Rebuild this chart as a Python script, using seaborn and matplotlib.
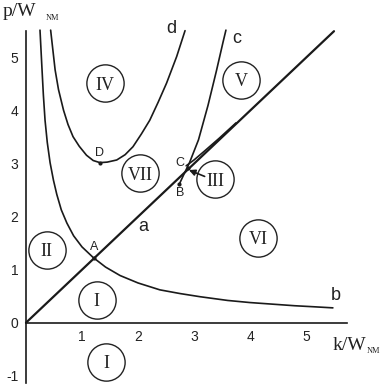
import matplotlib
matplotlib.use("Agg")
import matplotlib.pyplot as plt
import seaborn as sns
import pandas as pd

# curves (k/W_NM, p/W_NM)
line_a_x = [0.0, 5.5]
line_a_y = [0.0, 5.5]

curve_b_x = [0.25, 0.28, 0.31, 0.34, 0.38, 0.43, 0.49, 0.55, 0.63, 0.73, 0.85, 1.00, 1.20,
             1.42, 1.68, 2.00, 2.39, 2.75, 3.11, 3.60, 4.00, 4.40, 4.80, 5.15, 5.48]
curve_b_y = [5.52, 4.90, 4.30, 3.82, 3.40, 3.02, 2.69, 2.42, 2.13, 1.88, 1.64, 1.43, 1.23,
             1.05, 0.89, 0.75, 0.62, 0.55, 0.49, 0.42, 0.38, 0.35, 0.32, 0.30, 0.28]

curve_d_x = [0.44, 0.52, 0.58, 0.67, 0.75, 0.84, 0.95, 1.08, 1.20, 1.32, 1.45, 1.62,
             1.77, 1.91, 2.06, 2.21, 2.36, 2.51, 2.69, 2.84]
curve_d_y = [5.52, 4.77, 4.40, 4.01, 3.74, 3.51, 3.33, 3.16, 3.06, 3.02, 3.03, 3.07,
             3.17, 3.32, 3.56, 3.82, 4.16, 4.52, 5.02, 5.51]

curve_c_x = [2.74, 2.82, 2.92, 3.08, 3.25, 3.40, 3.52, 3.57]
curve_c_y = [2.62, 2.80, 3.02, 3.45, 4.10, 4.75, 5.30, 5.52]

curve_e_x = [2.86, 3.00, 3.20, 3.45, 3.75]
curve_e_y = [2.96, 3.07, 3.25, 3.48, 3.77]

point_names = ["A", "D", "B", "C"]
point_x = [1.22, 1.32, 2.74, 2.90]
point_y = [1.22, 3.02, 2.62, 2.92]
point_label_x = [1.21, 1.32, 2.75, 2.75]
point_label_y = [1.43, 3.21, 2.44, 3.01]

curve_names = ["a", "b", "c", "d"]
curve_label_x = [2.10, 5.54, 3.76, 2.60]
curve_label_y = [1.81, 0.52, 5.37, 5.55]

region_names = ["I", "I", "II", "III", "IV", "V", "VI", "VII"]
region_x = [1.26, 1.43, 0.37, 3.38, 1.41, 3.84, 4.14, 2.04]
region_y = [0.43, -0.74, 1.38, 2.71, 4.52, 4.58, 1.60, 2.82]

x_ticks = [1, 2, 3, 4, 5]
y_ticks = [-1, 0, 1, 2, 3, 4, 5]

sns.set_style("white")
plt.rcParams["axes.unicode_minus"] = False
W, H = 382, 384
fig = plt.figure(figsize=(W / 100, H / 100), dpi=100)
ax = fig.add_axes([0, 0, 1, 1])

# pixel mapping: x=0 at 26px, 56 px/unit ; y=0 at 322.7px, 53 px/unit
ax.set_xlim(-26 / 56, (W - 26) / 56)
ax.set_ylim((322.7 - H) / 53, 322.7 / 53)

ink = "#1a1a1a"
sns.lineplot(x=line_a_x, y=line_a_y, ax=ax, color=ink, lw=1.6, sort=False)
for cx, cy in [(curve_b_x, curve_b_y), (curve_d_x, curve_d_y),
               (curve_c_x, curve_c_y), (curve_e_x, curve_e_y)]:
    sns.lineplot(x=cx, y=cy, ax=ax, color=ink, lw=1.2, sort=False)

pts = pd.DataFrame({"x": point_x, "y": point_y})
sns.scatterplot(data=pts, x="x", y="y", ax=ax, color=ink, s=9, linewidth=0, zorder=5)

# region circles, all the same size
regions = pd.DataFrame({"x": region_x, "y": region_y})
sns.scatterplot(data=regions, x="x", y="y", ax=ax, marker="o", s=720,
                facecolor="white", edgecolor="#222", linewidth=1.0, zorder=6)

sans = "Liberation Sans"
serif = "Liberation Serif"
for n, x, y in zip(point_names, point_label_x, point_label_y):
    ax.text(x, y, n, ha="center", va="center", fontsize=9, family=sans, color="#222")
for n, x, y in zip(curve_names, curve_label_x, curve_label_y):
    ax.text(x, y, n, ha="center", va="center", fontsize=13, family=sans, color="#222")
for n, x, y in zip(region_names, region_x, region_y):
    ax.text(x, y, n, ha="center", va="center_baseline", fontsize=13, family=serif,
            color="#222", zorder=7)

ax.annotate("", xy=(2.91, 2.88), xytext=(3.19, 2.76),
            arrowprops=dict(arrowstyle="-|>", color=ink, lw=1.2, mutation_scale=9,
                            shrinkA=0, shrinkB=0), zorder=8)

# axes through the origin
for s in ["top", "right"]:
    ax.spines[s].set_visible(False)
ax.spines["left"].set_position(("data", 0))
ax.spines["bottom"].set_position(("data", 0))
ax.spines["left"].set_bounds(-1.13, 5.5)
ax.spines["bottom"].set_bounds(0, 5.73)
for s in ["left", "bottom"]:
    ax.spines[s].set_color(ink)
    ax.spines[s].set_linewidth(1.2)

ax.set_xlabel("")
ax.set_ylabel("")
ax.set_xticks(x_ticks)
ax.set_yticks(y_ticks)
ax.set_xticks([i * 0.2 for i in range(1, 29)], minor=True)
ax.set_yticks([i * 0.2 for i in range(-5, 28)], minor=True)
ax.tick_params(which="major", direction="out", length=3.5, width=1, color=ink,
               labelsize=10, pad=2, labelcolor="#222")
ax.tick_params(which="minor", direction="out", length=1.8, width=0.8, color=ink)
for lab in ax.get_xticklabels() + ax.get_yticklabels():
    lab.set_family(sans)

# axis titles
fig.text(3 / W, 1 - 12 / H, "p/W", family=serif, fontsize=14, va="center", ha="left", color="#222")
fig.text(46 / W, 1 - 18 / H, "NM", family=serif, fontsize=6, va="center", ha="left", color="#222")
fig.text(333 / W, 1 - 345 / H, "k/W", family=serif, fontsize=14, va="center", ha="left", color="#222")
fig.text(367 / W, 1 - 351 / H, "NM", family=serif, fontsize=6, va="center", ha="left", color="#222")

fig.savefig("out.png", dpi=100)
